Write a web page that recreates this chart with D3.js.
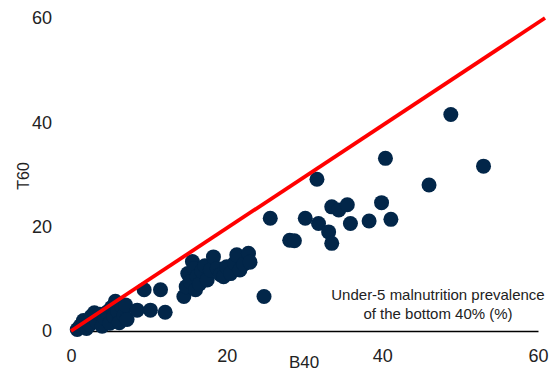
<!DOCTYPE html>
<html><head><meta charset="utf-8">
<script src="https://cdn.jsdelivr.net/npm/d3@7"></script>
<style>body{margin:0;background:#fff}svg{display:block}text{font-family:"Liberation Sans",Arial,sans-serif;fill:#222}</style>
</head><body><svg id="c" width="551" height="373"></svg>
<script>
const xTicks = [0, 20, 40, 60];
const yTicks = [0, 20, 40, 60];
const b40 = [0.8,1.2,1.6,2.0,2.4,2.6,3.0,3.3,3.7,4.0,4.3,4.6,5.0,5.2,5.5,5.7,6.0,6.2,6.5,6.8,7.0,7.2,
  8.5,9.4,10.2,11.5,12.1,14.5,14.8,15.0,15.3,15.6,15.8,16.0,16.2,16.5,16.8,17.2,17.5,17.9,18.3,18.8,19.2,19.6,20.0,20.5,21.0,21.3,21.7,22.2,22.8,23.0,24.8,
  25.6,28.1,28.7,30.1,31.6,31.8,33.1,33.5,33.5,34.4,35.5,35.9,38.3,39.9,40.4,41.1,46.0,48.8,53.0];
const t60 = [0.3,1.0,2.0,0.5,1.2,2.8,3.5,1.8,3.2,0.9,2.5,3.6,1.5,4.5,2.8,5.7,3.8,1.6,4.8,3.0,5.0,2.2,
  4.0,7.9,4.0,7.9,3.6,6.6,8.5,11.0,9.5,13.3,12.0,7.9,10.5,9.0,11.5,12.5,9.8,11.7,14.2,12.0,10.8,10.4,12.3,11.0,13.0,14.6,11.7,12.8,14.9,13.2,6.6,
  21.6,17.4,17.3,21.6,29.1,20.6,19.0,16.8,23.8,23.2,24.2,20.6,21.1,24.6,33.1,21.4,28.0,41.5,31.6];
const diagX = [0, 60.9];
const diagY = [0, 60];
const xLabel = "B40", yLabel = "T60";
const noteLines = ["Under-5 malnutrition prevalence", "of the bottom 40% (%)"];

const svg = d3.select("#c");
const x = d3.scaleLinear().domain([0, 60]).range([71, 538]);
const y = d3.scaleLinear().domain([0, 60]).range([331, 18]);

const gx = svg.append("g").attr("transform", `translate(0,${y(0)})`)
  .call(d3.axisBottom(x).tickValues(xTicks).tickSize(0).tickPadding(18).tickFormat(d3.format("d")));
gx.select(".domain").attr("stroke", "#000").attr("stroke-width", 1.6);
gx.selectAll("text").attr("font-size", 18).attr("fill", "#222").attr("font-family", "Liberation Sans, Arial, sans-serif");

const gy = svg.append("g").attr("transform", `translate(52,0)`)
  .call(d3.axisLeft(y).tickValues(yTicks).tickSize(0).tickPadding(0).tickFormat(d3.format("d")));
gy.select(".domain").remove();
gy.selectAll("text").attr("font-size", 18).attr("fill", "#222").attr("font-family", "Liberation Sans, Arial, sans-serif");

const pts = b40.map((d, i) => [d, t60[i]]);
svg.append("g").selectAll("circle").data(pts).join("circle")
  .attr("cx", d => x(d[0])).attr("cy", d => y(d[1])).attr("r", 7.5).attr("fill", "#022649");

svg.append("path").datum(diagX.map((d, i) => [d, diagY[i]]))
  .attr("d", d3.line().x(d => x(d[0])).y(d => y(d[1])))
  .attr("stroke", "#ff0000").attr("stroke-width", 3.8).attr("fill", "none");

svg.append("text").attr("x", 304).attr("y", 368).attr("text-anchor", "middle").attr("font-size", 17).text(xLabel);
svg.append("text").attr("transform", "translate(29,176) rotate(-90)").attr("text-anchor", "middle").attr("font-size", 16).text(yLabel);
svg.append("g").selectAll("text").data(noteLines).join("text")
  .attr("x", 438).attr("y", (d, i) => 300 + i * 19).attr("text-anchor", "middle").attr("font-size", 15).text(d => d);
</script></body></html>
